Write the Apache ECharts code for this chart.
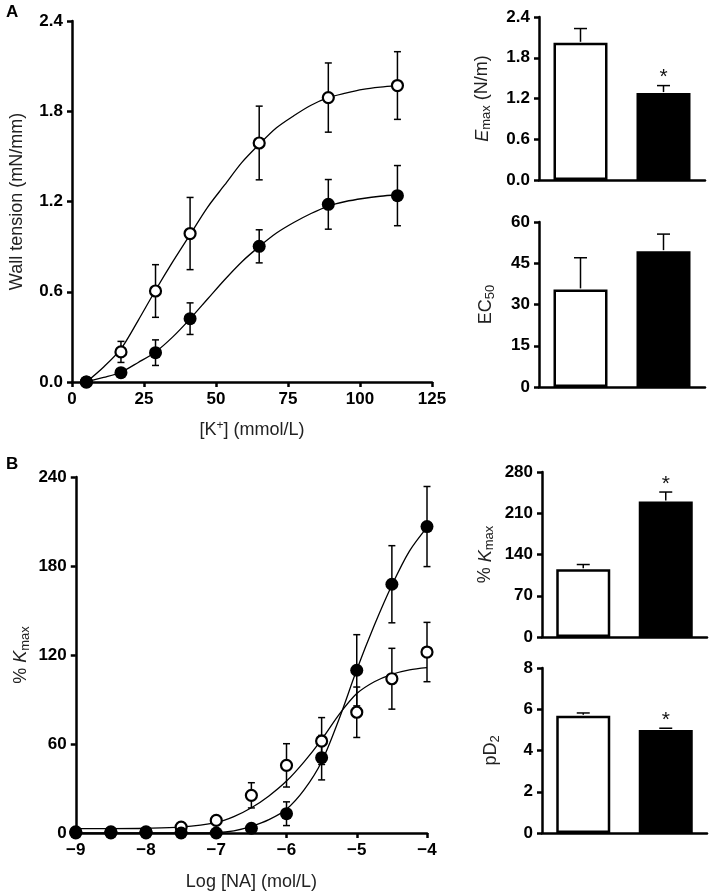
<!DOCTYPE html>
<html>
<head>
<meta charset="utf-8">
<script src="https://cdn.jsdelivr.net/npm/echarts@6/dist/echarts.min.js"></script>
<style>
html,body{margin:0;padding:0;background:#fff;}
#chart{width:709px;height:893px;}
</style>
</head>
<body>
<div id="chart"></div>
<script>
// ---------- Panel A: wall tension vs [K+] ----------
const kConc = [5, 17, 29, 41, 65, 89, 113];
const kOpenMean = [0, 0.20, 0.605, 0.987, 1.589, 1.891, 1.971];
const kOpenSem = [0, 0.07, 0.175, 0.24, 0.245, 0.23, 0.225];
const kFilledMean = [0, 0.062, 0.195, 0.421, 0.902, 1.181, 1.239];
const kFilledSem = [0, 0.02, 0.085, 0.105, 0.11, 0.165, 0.2];
// fitted curves
const kCurveX = [5, 11, 17, 23, 29, 35, 41, 47, 53, 59, 65, 71, 77, 83, 89, 95, 101, 107, 113];
const kOpenCurve = [0, 0.10, 0.22, 0.41, 0.61, 0.80, 0.98, 1.16, 1.31, 1.46, 1.58, 1.69, 1.77, 1.84, 1.89, 1.92, 1.945, 1.96, 1.97];
const kFilledCurve = [0, 0.03, 0.065, 0.13, 0.20, 0.30, 0.42, 0.55, 0.68, 0.80, 0.90, 0.99, 1.06, 1.12, 1.17, 1.20, 1.22, 1.235, 1.245];
const kXTicks = [0, 25, 50, 75, 100, 125];
const kYTicks = [0, 0.6, 1.2, 1.8, 2.4];

// ---------- Panel B: %Kmax vs log[NA] ----------
const naLog = [-9, -8.5, -8, -7.5, -7, -6.5, -6, -5.5, -5, -4.5, -4];
const naOpenMean = [0.8, 0.8, 0.8, 4.0, 8.5, 25.4, 45.6, 62, 81.4, 104, 122];
const naOpenSem = [0, 0, 0, 0, 0, 8.5, 14.6, 15.8, 17, 20.5, 20];
const naFilledMean = [0, 0, 0, 0, 0, 3.2, 13, 50.8, 109.7, 167.7, 206.6];
const naFilledSem = [0, 0, 0, 0, 0, 0, 8, 15, 24, 26, 27];
const naCurveX = [-9, -8.5, -8, -7.5, -7, -6.75, -6.5, -6.25, -6, -5.75, -5.5, -5.25, -5, -4.75, -4.5, -4.25, -4];
const naOpenCurve = [3, 3, 3.2, 4, 7, 11, 17, 25, 35, 48, 63, 80, 94, 102, 107, 110, 111.5];
const naFilledCurve = [0, 0, 0, 0, 0.3, 1.5, 4.5, 9, 16, 29, 48, 77, 110, 140, 167, 190, 206];
const naXTicks = [-9, -8, -7, -6, -5, -4];
const naYTicks = [0, 60, 120, 180, 240];

// ---------- Bar panels (open group, filled group) ----------
const groups = ['Open', 'Filled'];
const emaxMean = [2.02, 1.28];
const emaxSem = [0.21, 0.11];
const emaxSig = ['', '*'];
const ec50Mean = [35.5, 49.4];
const ec50Sem = [11.5, 6.2];
const ec50Sig = ['', ''];
const kmaxMean = [115, 230];
const kmaxSem = [8, 16];
const kmaxSig = ['', '*'];
const pd2Mean = [5.69, 5.0];
const pd2Sem = [0.13, 0.08];
const pd2Sig = ['', '*'];

const FONT = '"Liberation Sans", Arial, sans-serif';
const axisLine = { show: true, onZero: false, lineStyle: { color: '#000', width: 2.5 } };
const axisTick = { show: true, inside: false, length: 5, lineStyle: { color: '#000', width: 2.5 } };
const tickLabel = { fontFamily: FONT, fontWeight: 'bold', fontSize: 17, color: '#000' };
const nameStyle = { fontFamily: FONT, fontSize: 18, color: '#222' };

function valueAxis(gi, ticks, fmt, extra) {
  return Object.assign({
    type: 'value', gridIndex: gi,
    min: ticks[0], max: ticks[ticks.length - 1], interval: ticks[1] - ticks[0],
    axisLine: axisLine, axisTick: axisTick,
    axisLabel: Object.assign({ formatter: fmt, margin: 9 }, tickLabel),
    splitLine: { show: false }
  }, extra || {});
}
function catAxis(gi) {
  return {
    type: 'category', gridIndex: gi, data: groups,
    axisLine: axisLine, axisTick: { show: false }, axisLabel: { show: false },
    splitLine: { show: false }
  };
}
const minus = v => (v < 0 ? '\u2212' + Math.abs(v) : String(v));

function errRender(params, api) {
  const x = api.value(0), lo = api.value(1), hi = api.value(2);
  if (!(hi - lo > 0)) return { type: 'group', children: [] };
  const p1 = api.coord([x, lo]), p2 = api.coord([x, hi]);
  const c = 3.5, st = { stroke: '#000', lineWidth: 1.5 };
  return { type: 'group', children: [
    { type: 'line', shape: { x1: p1[0], y1: p1[1], x2: p2[0], y2: p2[1] }, style: st },
    { type: 'line', shape: { x1: p1[0] - c, y1: p1[1], x2: p1[0] + c, y2: p1[1] }, style: st },
    { type: 'line', shape: { x1: p2[0] - c, y1: p2[1], x2: p2[0] + c, y2: p2[1] }, style: st }
  ] };
}
function errSeries(xi, xs, mean, sem, z) {
  return {
    type: 'custom', xAxisIndex: xi, yAxisIndex: xi, z: z, silent: true,
    renderItem: errRender, encode: { x: 0, y: [1, 2] },
    data: xs.map((x, i) => [x, mean[i] - sem[i], mean[i] + sem[i]])
  };
}
function curveSeries(xi, xs, ys) {
  return {
    type: 'line', xAxisIndex: xi, yAxisIndex: xi, z: 2, silent: true,
    showSymbol: false, smooth: 0.3,
    lineStyle: { color: '#000', width: 1.3 },
    data: xs.map((x, i) => [x, ys[i]])
  };
}
function pointSeries(xi, xs, ys, filled) {
  return {
    type: 'scatter', xAxisIndex: xi, yAxisIndex: xi, z: filled ? 6 : 5, silent: true,
    symbol: 'circle', symbolSize: filled ? 13 : 11,
    itemStyle: filled ? { color: '#000', opacity: 1 } : { color: '#fff', borderColor: '#000', borderWidth: 2.2, opacity: 1 },
    data: xs.map((x, i) => [x, ys[i]])
  };
}
function barSeries(xi, mean) {
  return {
    type: 'bar', xAxisIndex: xi, yAxisIndex: xi, z: 2, silent: true, barWidth: 54,
    data: mean.map((m, i) => ({ value: m, itemStyle: { color: i === 0 ? '#fff' : '#000', borderColor: '#000', borderWidth: 2.5 } }))
  };
}
function whiskerSeries(xi, mean, sem, sig) {
  return {
    type: 'custom', xAxisIndex: xi, yAxisIndex: xi, z: 3, silent: true,
    encode: { x: 0, y: [1, 3] },
    data: mean.map((m, i) => [i, m, sem[i], m + sem[i]]),
    renderItem: function (params, api) {
      const i = api.value(0), m = api.value(1), s = api.value(2);
      const b = api.coord([i, m]), t = api.coord([i, m + s]);
      const c = 6.5, st = { stroke: '#000', lineWidth: 1.5 };
      const ch = [
        { type: 'line', shape: { x1: b[0], y1: b[1] - 1, x2: t[0], y2: t[1] }, style: st },
        { type: 'line', shape: { x1: t[0] - c, y1: t[1], x2: t[0] + c, y2: t[1] }, style: st }
      ];
      const lab = sig[params.dataIndex];
      if (lab) ch.push({ type: 'text', x: t[0], y: t[1] - 8,
        style: { text: lab, fontFamily: FONT, fontSize: 21, fill: '#111', align: 'center', verticalAlign: 'middle' } });
      return { type: 'group', children: ch };
    }
  };
}

const subRich = {
  n: { fontFamily: FONT, fontSize: 18, color: '#222' },
  i: { fontFamily: FONT, fontSize: 18, fontStyle: 'italic', color: '#222' },
  s: { fontFamily: FONT, fontSize: 13, color: '#222', verticalAlign: 'bottom', padding: [8, 0, 0, 0] },
  p: { fontFamily: FONT, fontSize: 12, color: '#222', verticalAlign: 'top', padding: [0, 0, 8, 0] }
};

const option = {
  animation: false,
  backgroundColor: '#fff',
  grid: [
    { left: 70, top: 21, width: 362, height: 361 },
    { left: 539, top: 17, width: 166, height: 163 },
    { left: 539, top: 222, width: 166, height: 165 },
    { left: 71, top: 477, width: 356, height: 356 },
    { left: 542, top: 472, width: 165, height: 165 },
    { left: 542, top: 668, width: 165, height: 165 }
  ],
  xAxis: [
    valueAxis(0, kXTicks, v => String(v), {
      name: '{n|[K}{p|+}{n|] (mmol/L)}', nameLocation: 'middle', nameGap: 38,
      nameTextStyle: { rich: subRich } }),
    catAxis(1),
    catAxis(2),
    valueAxis(3, naXTicks, minus, {
      name: 'Log [NA] (mol/L)', nameLocation: 'middle', nameGap: 40, nameTextStyle: nameStyle }),
    catAxis(4),
    catAxis(5)
  ],
  yAxis: [
    valueAxis(0, kYTicks, v => v.toFixed(1), {
      name: 'Wall tension (mN/mm)', nameLocation: 'middle', nameGap: 46, nameTextStyle: nameStyle }),
    valueAxis(1, [0, 0.6, 1.2, 1.8, 2.4], v => v.toFixed(1), {
      name: '{i|E}{s|max}{n| (N/m)}', nameLocation: 'middle', nameGap: 46, nameTextStyle: { rich: subRich } }),
    valueAxis(2, [0, 15, 30, 45, 60], v => String(v), {
      name: '{n|EC}{s|50}', nameLocation: 'middle', nameGap: 42, nameTextStyle: { rich: subRich } }),
    valueAxis(3, naYTicks, v => String(v), {
      name: '{n|% }{i|K}{s|max}', nameLocation: 'middle', nameGap: 44, nameTextStyle: { rich: subRich } }),
    valueAxis(4, [0, 70, 140, 210, 280], v => String(v), {
      name: '{n|% }{i|K}{s|max}', nameLocation: 'middle', nameGap: 46, nameTextStyle: { rich: subRich } }),
    valueAxis(5, [0, 2, 4, 6, 8], v => String(v), {
      name: '{n|pD}{s|2}', nameLocation: 'middle', nameGap: 40, nameTextStyle: { rich: subRich } })
  ],
  graphic: [
    { type: 'text', left: 6, top: 4, style: { text: 'A', fontFamily: FONT, fontWeight: 'bold', fontSize: 17, fill: '#000' } },
    { type: 'text', left: 6, top: 456, style: { text: 'B', fontFamily: FONT, fontWeight: 'bold', fontSize: 17, fill: '#000' } }
  ],
  series: [
    curveSeries(0, kCurveX, kOpenCurve),
    curveSeries(0, kCurveX, kFilledCurve),
    errSeries(0, kConc, kOpenMean, kOpenSem, 3),
    errSeries(0, kConc, kFilledMean, kFilledSem, 3),
    pointSeries(0, kConc, kOpenMean, false),
    pointSeries(0, kConc, kFilledMean, true),

    barSeries(1, emaxMean), whiskerSeries(1, emaxMean, emaxSem, emaxSig),
    barSeries(2, ec50Mean), whiskerSeries(2, ec50Mean, ec50Sem, ec50Sig),

    curveSeries(3, naCurveX, naOpenCurve),
    curveSeries(3, naCurveX, naFilledCurve),
    errSeries(3, naLog, naOpenMean, naOpenSem, 3),
    errSeries(3, naLog, naFilledMean, naFilledSem, 3),
    pointSeries(3, naLog, naOpenMean, false),
    pointSeries(3, naLog, naFilledMean, true),

    barSeries(4, kmaxMean), whiskerSeries(4, kmaxMean, kmaxSem, kmaxSig),
    barSeries(5, pd2Mean), whiskerSeries(5, pd2Mean, pd2Sem, pd2Sig)
  ]
};

const chart = echarts.init(document.getElementById('chart'), null, { renderer: 'canvas' });
chart.setOption(option);
</script>
</body>
</html>
